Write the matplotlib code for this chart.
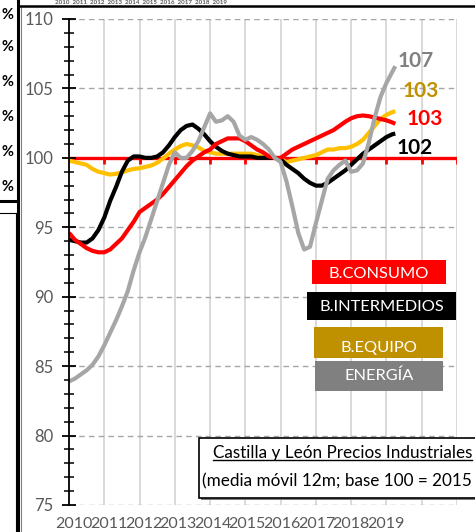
import matplotlib
matplotlib.use("Agg")
import matplotlib.pyplot as plt
from matplotlib.patches import Rectangle
from matplotlib.lines import Line2D

# ---------------- data ----------------
months = list(range(0, 111, 2)) + [111]          # months since Jan-2010
years = ["2010", "2011", "2012", "2013", "2014", "2015", "2016", "2017", "2018", "2019"]

b_consumo = [94.6, 94.1, 93.8, 93.5, 93.3, 93.2, 93.2, 93.4, 93.8, 94.2,
             94.8, 95.4, 96.1, 96.4, 96.7, 97.0, 97.4, 97.9, 98.4, 98.9,
             99.4, 99.8, 100.1, 100.4, 100.6, 101.0, 101.2, 101.4, 101.4, 101.4,
             101.2, 100.9, 100.6, 100.4, 100.1, 100.0, 100.0, 100.3, 100.6, 100.8,
             101.0, 101.2, 101.4, 101.6, 101.8, 102.0, 102.3, 102.6, 102.85, 103.0,
             103.05, 103.0, 102.9, 102.8, 102.7, 102.55, 102.45]
b_intermedios = [94.1, 94.0, 93.9, 93.9, 94.2, 94.8, 95.7, 96.9, 97.9, 99.0,
                 99.8, 100.1, 100.1, 100.0, 100.0, 100.1, 100.4, 100.9, 101.5, 102.0,
                 102.3, 102.4, 102.1, 101.7, 101.2, 100.8, 100.5, 100.3, 100.2, 100.1,
                 100.1, 100.1, 100.0, 100.0, 100.0, 100.0, 99.9, 99.5, 99.2, 98.9,
                 98.5, 98.2, 98.0, 98.0, 98.2, 98.5, 98.8, 99.1, 99.5, 99.9,
                 100.3, 100.6, 100.9, 101.2, 101.5, 101.7, 101.75]
b_equipo = [99.8, 99.7, 99.6, 99.5, 99.2, 99.0, 98.9, 98.8, 98.85, 98.95,
            99.1, 99.2, 99.25, 99.35, 99.45, 99.65, 99.95, 100.3, 100.6, 100.85,
            101.0, 100.9, 100.75, 100.5, 100.4, 100.3, 100.3, 100.3, 100.3, 100.3,
            100.3, 100.3, 100.2, 100.1, 100.1, 100.0, 99.9, 99.7, 99.8, 99.9,
            100.0, 100.1, 100.2, 100.4, 100.6, 100.6, 100.7, 100.7, 100.8, 101.0,
            101.3, 101.8, 102.3, 102.8, 103.1, 103.3, 103.35]
energia = [83.9, 84.1, 84.4, 84.7, 85.1, 85.7, 86.5, 87.4, 88.3, 89.3,
           90.4, 91.9, 93.2, 94.3, 95.6, 96.9, 98.2, 99.5, 100.4, 100.0,
           100.0, 100.5, 101.2, 102.2, 103.2, 102.6, 102.7, 103.0, 102.6, 101.6,
           101.3, 101.5, 101.3, 101.0, 100.6, 100.0, 99.7, 98.3, 96.5, 94.6,
           93.4, 93.6, 95.3, 96.9, 98.5, 99.1, 99.5, 99.8, 99.0, 99.1,
           99.6, 101.1, 102.9, 104.4, 105.4, 106.2, 106.6]

series_names = ["B.CONSUMO", "B.INTERMEDIOS", "B.EQUIPO", "ENERGÍA"]
end_labels = ["103", "102", "103", "107"]

# ---------------- figure ----------------
W, H = 475, 532
fig = plt.figure(figsize=(W / 100, H / 100), dpi=100)
plt.rcParams['font.family'] = ['Lato', 'DejaVu Sans']

def fx(px):
    return px / W

def fy(py):
    return 1 - py / H

ax_l, ax_r, ax_t, ax_b = 69, 457, 19, 505
ax = fig.add_axes([fx(ax_l), fy(ax_b), (ax_r - ax_l) / W, (ax_b - ax_t) / H])
ax.set_xlim(0, 132)
ax.set_ylim(75, 110)

# gridlines
for k in range(1, 12):
    ax.axvline(12 * k, color="#D9D9D9", lw=1.4, zorder=0)
for v in range(75, 111, 5):
    if v != 100:
        ax.axhline(v, color="#A6A6A6", lw=1.0, ls=(0, (4, 3)), zorder=0.5)

# red category axis at 100 with ticks
ax.axhline(100, color="#FF0000", lw=2.4, zorder=1)
ax.vlines([12 * k for k in range(1, 12)], 100 - 6.5 / 13.886, 100,
          color="#FF0000", lw=2.0, zorder=1)

# series
ax.plot(months, b_equipo, color="#FFC000", lw=3.0, zorder=2, solid_capstyle="butt")
ax.plot(months, b_intermedios, color="#000000", lw=3.0, zorder=3, solid_capstyle="butt")
ax.plot(months, b_consumo, color="#FF0000", lw=3.0, zorder=4, solid_capstyle="butt")
ax.plot(months, energia, color="#A6A6A6", lw=3.0, zorder=5, solid_capstyle="butt")

# end value labels
ax.text(111.6, 100.7, end_labels[1], color="#000000", fontsize=15, fontweight="bold",
        ha="left", va="center", clip_on=False)
ax.text(115.0, 102.8, end_labels[0], color="#FF0000", fontsize=15, fontweight="bold",
        ha="left", va="center", clip_on=False)
ax.text(113.6, 104.8, end_labels[2], color="#BF9000", fontsize=15, fontweight="bold",
        ha="left", va="center", clip_on=False)
ax.text(111.9, 107.0, end_labels[3], color="#808080", fontsize=15, fontweight="bold",
        ha="left", va="center", clip_on=False)

# axes styling
for s in ["top", "right", "bottom"]:
    ax.spines[s].set_visible(False)
ax.spines["left"].set_color("black")
ax.spines["left"].set_linewidth(1.3)
ax.spines["left"].set_zorder(6)
ax.set_yticks(range(75, 111, 5))
ax.set_yticks(range(75, 111, 1), minor=True)
ax.tick_params(axis="y", which="major", direction="inout", length=10, width=1.3,
               colors="black", labelcolor="#595959", labelsize=12, pad=6)
ax.tick_params(axis="y", which="minor", direction="inout", length=7, width=1.1, colors="black")
ax.set_xticks([1.8 + 11.77 * k for k in range(len(years))], years)
ax.tick_params(axis="x", which="both", length=0, labelcolor="#595959", labelsize=11.5, pad=9)
ax.patch.set_visible(False)

# legend text boxes
boxes = [
    (series_names[0], "#FF0000", 312, 446, 260, 284, 274),
    (series_names[1], "#000000", 307, 456, 292, 320, 307),
    (series_names[2], "#BF9000", 314, 443, 327, 358, 348),
    (series_names[3], "#808080", 315, 443, 361, 391, 376),
]
for name, col, x0, x1, y0, y1, ty in boxes:
    fig.add_artist(Rectangle((fx(x0), fy(y1)), (x1 - x0) / W, (y1 - y0) / H,
                             transform=fig.transFigure, facecolor=col, edgecolor="none", zorder=10))
    fig.text(fx((x0 + x1) / 2), fy(ty), name, color="white", fontsize=11.8,
             ha="center", va="center", zorder=11)

# title box
fig.add_artist(Rectangle((fx(201), fy(500)), 290 / W, 60 / H, transform=fig.transFigure,
                         facecolor="#7F7F7F", edgecolor="none", zorder=10))
fig.add_artist(Rectangle((fx(199), fy(498)), 290 / W, 60 / H, transform=fig.transFigure,
                         facecolor="white", edgecolor="black", lw=1.2, zorder=11))
t1 = fig.text(fx(213), fy(453), "Castilla y León Precios Industriales", color="black",
              fontsize=12.3, ha="left", va="center", zorder=12)
fig.text(fx(202), fy(481), "(media móvil 12m; base 100 = 2015", color="black",
         fontsize=12.3, ha="left", va="center", zorder=12)
fig.canvas.draw()
bb = t1.get_window_extent()
fig.add_artist(Line2D([bb.x0 / W, bb.x1 / W], [(bb.y0 + 1) / H, (bb.y0 + 1) / H],
                      transform=fig.transFigure, color="black", lw=1.0, zorder=12))

# remnants of neighbouring objects in the screenshot
fig.add_artist(Line2D([fx(18), fx(18)], [0, 1], transform=fig.transFigure, color="black", lw=2.2))
fig.add_artist(Line2D([fx(21), fx(21)], [0, fy(6)], transform=fig.transFigure, color="#808080", lw=0.8))
fig.add_artist(Line2D([fx(19), 1], [fy(6), fy(6)], transform=fig.transFigure, color="black", lw=1.8))
fig.add_artist(Line2D([0, fx(17)], [fy(201), fy(201)], transform=fig.transFigure, color="black", lw=2.2))
fig.add_artist(Line2D([0, fx(15.5)], [fy(213), fy(213)], transform=fig.transFigure, color="black", lw=0.8))
fig.add_artist(Line2D([fx(15.5), fx(15.5)], [fy(213), 0], transform=fig.transFigure, color="black", lw=0.8))
for py in [15, 47, 82, 117, 152, 187]:
    fig.text(fx(1), fy(py), "%", color="black", fontsize=10.5, fontweight="bold",
             ha="left", va="center")
fig.text(fx(55), fy(2.5), "  ".join(years), color="#595959", fontsize=4.5,
         fontweight="bold", ha="left", va="center")

fig.savefig("out.png", dpi=100)
